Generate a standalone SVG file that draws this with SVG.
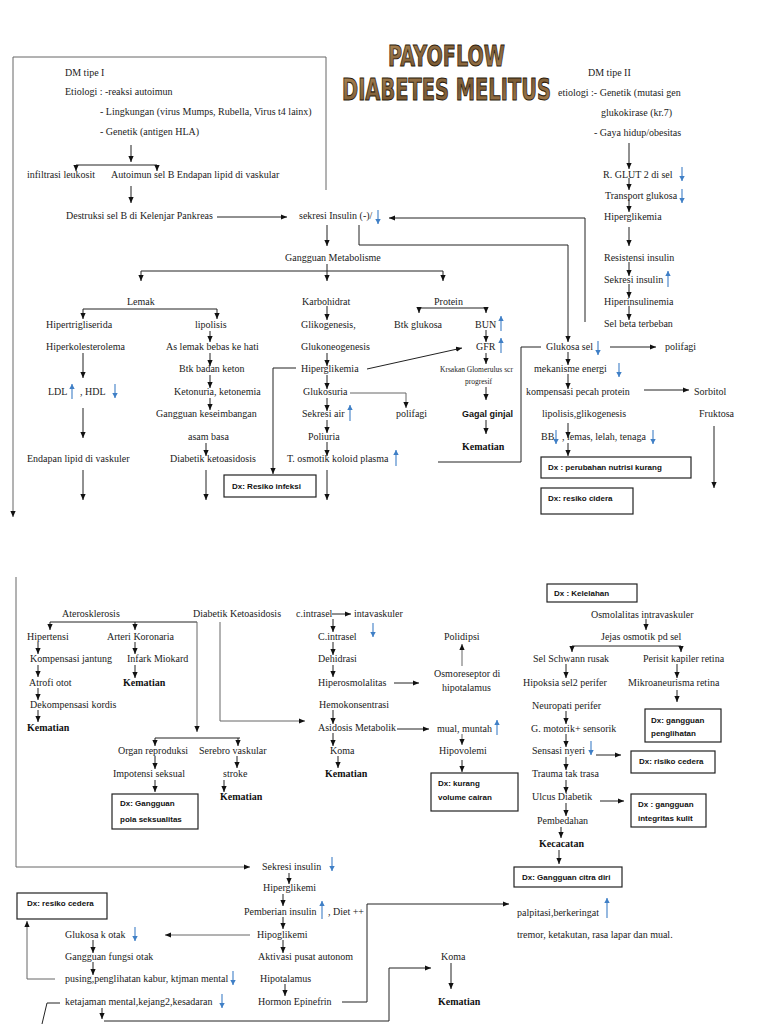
<svg xmlns="http://www.w3.org/2000/svg" width="768" height="1024" viewBox="0 0 768 1024">
<defs>
<marker id="ah" markerUnits="userSpaceOnUse" markerWidth="6" markerHeight="6" refX="6" refY="3" orient="auto"><path d="M0,0.4 L6,3 L0,5.6 z" fill="#111"/></marker>
<marker id="bh" markerUnits="userSpaceOnUse" markerWidth="6" markerHeight="6" refX="5" refY="3" orient="auto"><path d="M0,0.3 L5,3 L0,5.7 z" fill="#3f7fc6"/></marker>
<linearGradient id="tx" x1="0" y1="0" x2="1" y2="1"><stop offset="0" stop-color="#b08a58"/><stop offset="0.5" stop-color="#7a5a34"/><stop offset="1" stop-color="#a88050"/></linearGradient>
</defs>
<style>
.t{font-family:"Liberation Serif","Times New Roman",serif;font-size:10px;fill:#222}
.b{font-weight:bold;fill:#111}
.s{font-size:7.5px}
.dx{font-family:"Liberation Sans",Arial,sans-serif;font-size:8px;font-weight:bold;fill:#111}
.gg{font-family:"Liberation Sans",Arial,sans-serif;font-size:9px;font-weight:bold;fill:#111}
.box{fill:#fff;stroke:#222;stroke-width:1.2}
.c{stroke:#222;stroke-width:1;fill:none}
.g{stroke:#666;stroke-width:1;fill:none}
.a{marker-end:url(#ah)}
.bl{stroke:#3f7fc6;stroke-width:1.1;fill:none;marker-end:url(#bh)}
.ttl{font-family:"DejaVu Sans",sans-serif;font-weight:bold;fill:url(#tx);stroke:#2b1a0a;stroke-width:0.6}
</style>
<rect width="768" height="1024" fill="#fff"/>

<g id="title">
<text class="ttl" transform="translate(388,66) scale(1,1.55)" x="0" y="0" font-size="18.5" textLength="117" lengthAdjust="spacingAndGlyphs">PAYOFLOW</text>
<text class="ttl" transform="translate(342,100) scale(1,1.75)" x="0" y="0" font-size="17.6" textLength="209" lengthAdjust="spacingAndGlyphs">DIABETES MELITUS</text>
</g>

<g id="connectors">
<polyline class="g" points="326,190 326,57 13,57 13,517" marker-end="url(#ah)"/>
<line class="c a" x1="131" y1="145" x2="131" y2="162"/>
<line class="c" x1="76" y1="165" x2="157" y2="165"/>
<line class="c a" x1="76" y1="165" x2="76" y2="171"/>
<line class="c a" x1="157" y1="165" x2="157" y2="171"/>
<line class="c a" x1="131" y1="186" x2="131" y2="203"/>
<line class="c a" x1="217" y1="217" x2="287" y2="217"/>
<line class="c a" x1="327" y1="225" x2="327" y2="246"/>
<polyline class="c a" points="359,225 359,245 568,245 568,342"/>
<polyline class="c a" points="585,322 585,218 389,218"/>
<line class="c" x1="327" y1="264" x2="327" y2="271"/>
<line class="c" x1="141" y1="271" x2="443" y2="271"/>
<line class="c a" x1="141" y1="271" x2="141" y2="281"/>
<line class="c a" x1="327" y1="271" x2="327" y2="281"/>
<line class="c a" x1="443" y1="271" x2="443" y2="281"/>
<line class="c" x1="83" y1="309" x2="217" y2="309"/>
<line class="c a" x1="83" y1="309" x2="83" y2="319"/>
<line class="c a" x1="217" y1="309" x2="217" y2="319"/>
<line class="c" x1="419" y1="308" x2="486" y2="308"/>
<line class="c a" x1="419" y1="308" x2="419" y2="313"/>
<line class="c a" x1="486" y1="308" x2="486" y2="313"/>
<line class="c a" x1="327" y1="306" x2="327" y2="320"/>
<line class="c a" x1="210" y1="331" x2="210" y2="342"/>
<line class="c a" x1="83" y1="353" x2="83" y2="378"/>
<line class="c a" x1="210" y1="353" x2="210" y2="366"/>
<line class="c a" x1="327" y1="353" x2="327" y2="366"/>
<line class="c a" x1="210" y1="375" x2="210" y2="388"/>
<line class="c a" x1="210" y1="398" x2="210" y2="410"/>
<line class="c a" x1="206" y1="443" x2="206" y2="456"/>
<line class="c a" x1="83" y1="408" x2="83" y2="438"/>
<line class="c a" x1="83" y1="470" x2="83" y2="500"/>
<line class="c a" x1="206" y1="470" x2="206" y2="500"/>
<line class="c a" x1="327" y1="375" x2="327" y2="389"/>
<line class="c a" x1="327" y1="398" x2="327" y2="411"/>
<line class="c a" x1="327" y1="420" x2="327" y2="433"/>
<line class="c a" x1="327" y1="442" x2="327" y2="456"/>
<line class="c a" x1="327" y1="470" x2="327" y2="500"/>
<polyline class="c a" points="296,368 273,368 273,474"/>
<line class="c a" x1="367" y1="369" x2="462" y2="348"/>
<polyline class="g a" points="350,393 406,393 406,408"/>
<line class="c a" x1="486" y1="330" x2="486" y2="342"/>
<line class="c a" x1="486" y1="353" x2="486" y2="364"/>
<line class="c a" x1="486" y1="387" x2="486" y2="400"/>
<line class="c a" x1="486" y1="420" x2="486" y2="434"/>
<polyline class="c" points="438,462 521,462 521,347 541,347"/>
<line class="c a" x1="629" y1="143" x2="629" y2="169"/>
<line class="c a" x1="629" y1="178" x2="629" y2="190"/>
<line class="c a" x1="629" y1="199" x2="629" y2="212"/>
<line class="c a" x1="629" y1="227" x2="629" y2="246"/>
<line class="c a" x1="629" y1="262" x2="629" y2="276"/>
<line class="c a" x1="629" y1="284" x2="629" y2="298"/>
<line class="c a" x1="629" y1="306" x2="629" y2="320"/>
<line class="c a" x1="610" y1="347" x2="656" y2="347"/>
<line class="c a" x1="568" y1="352" x2="568" y2="365"/>
<line class="c a" x1="568" y1="374" x2="568" y2="389"/>
<line class="c a" x1="644" y1="390" x2="689" y2="390"/>
<line class="c a" x1="568" y1="423" x2="568" y2="438"/>
<line class="c a" x1="568" y1="443" x2="568" y2="456"/>
<line class="c a" x1="714" y1="426" x2="714" y2="488"/>

<polyline class="g a" points="16,577 16,867 250,867"/>
<line class="c" x1="50" y1="622" x2="197" y2="622"/>
<line class="c a" x1="50" y1="622" x2="50" y2="630"/>
<line class="c a" x1="135" y1="622" x2="135" y2="630"/>
<line class="g a" x1="197" y1="622" x2="197" y2="732"/>
<line class="c" x1="155" y1="738" x2="240" y2="738"/>
<line class="c a" x1="155" y1="738" x2="155" y2="746"/>
<line class="c a" x1="238" y1="738" x2="238" y2="746"/>
<polyline class="g a" points="220,622 220,721 305,721"/>
<line class="c a" x1="332" y1="614" x2="351" y2="614"/>
<line class="c a" x1="38" y1="642" x2="38" y2="654"/>
<line class="c a" x1="38" y1="665" x2="38" y2="677"/>
<line class="c a" x1="38" y1="688" x2="38" y2="700"/>
<line class="c a" x1="38" y1="710" x2="38" y2="722"/>
<line class="c a" x1="135" y1="642" x2="135" y2="654"/>
<line class="c a" x1="135" y1="665" x2="135" y2="678"/>
<line class="c a" x1="333" y1="619" x2="333" y2="632"/>
<line class="c a" x1="333" y1="642" x2="333" y2="655"/>
<line class="c a" x1="333" y1="665" x2="333" y2="677"/>
<line class="c a" x1="333" y1="710" x2="333" y2="724"/>
<line class="c a" x1="333" y1="733" x2="333" y2="746"/>
<line class="c a" x1="338" y1="756" x2="338" y2="768"/>
<line class="c a" x1="394" y1="683" x2="419" y2="683"/>
<line class="g a" x1="462" y1="666" x2="462" y2="644"/>
<line class="c a" x1="397" y1="729" x2="429" y2="729"/>
<line class="g a" x1="462" y1="734" x2="462" y2="745"/>
<line class="c a" x1="462" y1="760" x2="462" y2="772"/>
<line class="c a" x1="155" y1="756" x2="155" y2="769"/>
<line class="c a" x1="155" y1="780" x2="155" y2="792"/>
<line class="c a" x1="237" y1="756" x2="237" y2="768"/>
<line class="c a" x1="224" y1="780" x2="224" y2="792"/>
<line class="c a" x1="646" y1="619" x2="646" y2="630"/>
<line class="c" x1="572" y1="646" x2="681" y2="646"/>
<line class="c a" x1="572" y1="646" x2="572" y2="652"/>
<line class="c a" x1="681" y1="646" x2="681" y2="652"/>
<line class="c a" x1="566" y1="664" x2="566" y2="678"/>
<line class="c a" x1="677" y1="664" x2="677" y2="678"/>
<line class="c a" x1="677" y1="690" x2="677" y2="702"/>
<line class="c a" x1="566" y1="711" x2="566" y2="724"/>
<line class="c a" x1="566" y1="734" x2="566" y2="747"/>
<line class="c a" x1="566" y1="757" x2="566" y2="770"/>
<line class="c a" x1="566" y1="780" x2="566" y2="793"/>
<line class="c a" x1="566" y1="803" x2="566" y2="816"/>
<line class="c a" x1="561" y1="827" x2="561" y2="838"/>
<line class="c a" x1="559" y1="850" x2="559" y2="864"/>
<line class="c a" x1="596" y1="755" x2="621" y2="755"/>
<line class="c a" x1="600" y1="801" x2="624" y2="801"/>
<line class="c a" x1="289" y1="873" x2="289" y2="884"/>
<line class="c a" x1="283" y1="894" x2="283" y2="906"/>
<line class="c a" x1="283" y1="917" x2="283" y2="929"/>
<line class="c a" x1="283" y1="940" x2="283" y2="953"/>
<line class="c a" x1="285" y1="984" x2="285" y2="996"/>
<line class="g a" x1="250" y1="935" x2="165" y2="935"/>
<line class="c a" x1="93" y1="940" x2="93" y2="953"/>
<line class="c a" x1="93" y1="962" x2="93" y2="975"/>
<polyline class="g a" points="55,979 27,979 27,921"/>
<polyline class="c" points="60,1003 47,1003 42,1024"/>
<line class="c a" x1="102" y1="1008" x2="102" y2="1019"/>
<polyline class="c a" points="104,1021 389,1021 389,968 431,968"/>
<line class="c a" x1="451" y1="963" x2="451" y2="989"/>
<polyline class="c a" points="342,1002 367,1002 367,904 509,904"/>
</g>

<g id="blue-arrows">
<line class="bl" x1="378" y1="210" x2="378" y2="224"/>
<line class="bl" x1="501" y1="331" x2="501" y2="316"/>
<line class="bl" x1="501" y1="353" x2="501" y2="338"/>
<line class="bl" x1="72" y1="399" x2="72" y2="384"/>
<line class="bl" x1="115" y1="384" x2="115" y2="398"/>
<line class="bl" x1="350" y1="421" x2="350" y2="405"/>
<line class="bl" x1="396" y1="466" x2="396" y2="450"/>
<line class="bl" x1="682" y1="167" x2="682" y2="181"/>
<line class="bl" x1="682" y1="189" x2="682" y2="203"/>
<line class="bl" x1="668" y1="287" x2="668" y2="271"/>
<line class="bl" x1="598" y1="341" x2="598" y2="355"/>
<line class="bl" x1="619" y1="363" x2="619" y2="377"/>
<line class="bl" x1="556" y1="430" x2="556" y2="444"/>
<line class="bl" x1="653" y1="430" x2="653" y2="444"/>
<line class="bl" x1="373" y1="623" x2="373" y2="637"/>
<line class="bl" x1="497" y1="735" x2="497" y2="720"/>
<line class="bl" x1="591" y1="741" x2="591" y2="755"/>
<line class="bl" x1="332" y1="857" x2="332" y2="871"/>
<line class="bl" x1="322" y1="919" x2="322" y2="901"/>
<line class="bl" x1="607" y1="918" x2="607" y2="898"/>
<line class="bl" x1="135" y1="927" x2="135" y2="941"/>
<line class="bl" x1="233" y1="971" x2="233" y2="985"/>
<line class="bl" x1="222" y1="994" x2="222" y2="1008"/>
</g>

<g id="n-dm1"><text class="t" x="65" y="76">DM tipe I</text></g>
<g id="n-etio1"><text class="t" x="65" y="95">Etiologi : -reaksi autoimun</text></g>
<g id="n-lingk"><text class="t" x="100" y="115">- Lingkungan (virus Mumps, Rubella, Virus t4 lainx)</text></g>
<g id="n-genetik"><text class="t" x="100" y="135">- Genetik (antigen HLA)</text></g>
<g id="n-infil"><text class="t" x="27" y="178">infiltrasi leukosit</text></g>
<g id="n-autoimun"><text class="t" x="111" y="178">Autoimun sel B Endapan lipid di vaskular</text></g>
<g id="n-destruksi"><text class="t" x="66" y="219">Destruksi sel B di Kelenjar Pankreas</text></g>
<g id="n-sekresi1"><text class="t" x="299" y="219">sekresi Insulin (-)/</text></g>
<g id="n-gangguan"><text class="t" x="285" y="261">Gangguan Metabolisme</text></g>
<g id="n-lemak"><text class="t" x="127" y="305">Lemak</text></g>
<g id="n-karbo"><text class="t" x="302" y="305">Karbohidrat</text></g>
<g id="n-protein"><text class="t" x="434" y="305">Protein</text></g>
<g id="n-hipertg"><text class="t" x="46" y="328">Hipertrigliserida</text></g>
<g id="n-lipolisis"><text class="t" x="195" y="328">lipolisis</text></g>
<g id="n-glikogen"><text class="t" x="301" y="328">Glikogenesis,</text></g>
<g id="n-btkglu"><text class="t" x="394" y="328">Btk glukosa</text></g>
<g id="n-bun"><text class="t" x="475" y="328">BUN</text></g>
<g id="n-hiperkol"><text class="t" x="46" y="350">Hiperkolesterolema</text></g>
<g id="n-aslemak"><text class="t" x="166" y="350">As lemak bebas ke hati</text></g>
<g id="n-glukoneo"><text class="t" x="301" y="350">Glukoneogenesis</text></g>
<g id="n-gfr"><text class="t" x="476" y="350">GFR</text></g>
<g id="n-krsakan"><text class="t s" x="440" y="372">Krsakan Glomerulus scr</text><text class="t s" x="465" y="384">progresif</text></g>
<g id="n-ldl"><text class="t" x="48" y="395">LDL</text><text class="t" x="80" y="395">, HDL</text></g>
<g id="n-btkketon"><text class="t" x="179" y="372">Btk badan keton</text></g>
<g id="n-hipergl1"><text class="t" x="301" y="372">Hiperglikemia</text></g>
<g id="n-ketonuria"><text class="t" x="174" y="395">Ketonuria, ketonemia</text></g>
<g id="n-glukosuria"><text class="t" x="303" y="395">Glukosuria</text></g>
<g id="n-gkab"><text class="t" x="156" y="417">Gangguan keseimbangan</text></g>
<g id="n-sekair"><text class="t" x="302" y="417">Sekresi air</text></g>
<g id="n-polifagi1"><text class="t" x="396" y="417">polifagi</text></g>
<g id="n-gagal"><text class="gg" x="462" y="417">Gagal ginjal</text></g>
<g id="n-asam"><text class="t" x="188" y="440">asam basa</text></g>
<g id="n-poliuria"><text class="t" x="308" y="440">Poliuria</text></g>
<g id="n-kem1"><text class="t b" x="462" y="450">Kematian</text></g>
<g id="n-endapan"><text class="t" x="27" y="462">Endapan lipid di vaskuler</text></g>
<g id="n-dka1"><text class="t" x="170" y="462">Diabetik ketoasidosis</text></g>
<g id="n-tosm"><text class="t" x="287" y="462">T. osmotik koloid plasma</text></g>
<g id="n-dx-infeksi"><rect class="box" x="224" y="475" width="92" height="22"/><text class="dx" x="232" y="489">Dx: Resiko infeksi</text></g>

<g id="n-dm2"><text class="t" x="588" y="76">DM tipe II</text></g>
<g id="n-etio2"><text class="t" x="558" y="96">etiologi :- Genetik (mutasi gen</text></g>
<g id="n-gluko"><text class="t" x="601" y="116">glukokirase (kr.7)</text></g>
<g id="n-gaya"><text class="t" x="594" y="136">-  Gaya hidup/obesitas</text></g>
<g id="n-glut"><text class="t" x="603" y="178">R. GLUT 2 di sel</text></g>
<g id="n-transport"><text class="t" x="605" y="199">Transport glukosa</text></g>
<g id="n-hipergl2"><text class="t" x="604" y="220">Hiperglikemia</text></g>
<g id="n-resist"><text class="t" x="604" y="261">Resistensi insulin</text></g>
<g id="n-sekresi2"><text class="t" x="604" y="283">Sekresi insulin</text></g>
<g id="n-hiperins"><text class="t" x="604" y="305">Hiperinsulinemia</text></g>
<g id="n-selbeta"><text class="t" x="604" y="327">Sel beta terbeban</text></g>
<g id="n-glusel"><text class="t" x="546" y="350">Glukosa sel</text></g>
<g id="n-polifagi2"><text class="t" x="665" y="350">polifagi</text></g>
<g id="n-mekanisme"><text class="t" x="534" y="372">mekanisme energi</text></g>
<g id="n-kompensasi"><text class="t" x="526" y="395">kompensasi pecah protein</text></g>
<g id="n-sorbitol"><text class="t" x="694" y="395">Sorbitol</text></g>
<g id="n-lipogli"><text class="t" x="542" y="417">lipolisis,glikogenesis</text></g>
<g id="n-fruktosa"><text class="t" x="699" y="417">Fruktosa</text></g>
<g id="n-bb"><text class="t" x="541" y="440">BB</text><text class="t" x="562" y="440">, lemas, lelah, tenaga</text></g>
<g id="n-dx-nutrisi"><rect class="box" x="541" y="457" width="150" height="21"/><text class="dx" x="548" y="470">Dx : perubahan nutrisi kurang</text></g>
<g id="n-dx-cidera1"><rect class="box" x="541" y="488" width="92" height="26"/><text class="dx" x="548" y="501">Dx: resiko cidera</text></g>

<g id="m-ateros"><text class="t" x="62" y="617">Aterosklerosis</text></g>
<g id="m-dka2"><text class="t" x="193" y="617">Diabetik Ketoasidosis</text></g>
<g id="m-cintra1"><text class="t" x="296" y="617">c.intrasel</text></g>
<g id="m-intav"><text class="t" x="354" y="617">intavaskuler</text></g>
<g id="m-hipertensi"><text class="t" x="27" y="640">Hipertensi</text></g>
<g id="m-arteri"><text class="t" x="107" y="640">Arteri Koronaria</text></g>
<g id="m-cintra2"><text class="t" x="318" y="640">C.intrasel</text></g>
<g id="m-polidipsi"><text class="t" x="444" y="640">Polidipsi</text></g>
<g id="m-jejas"><text class="t" x="601" y="640">Jejas osmotik pd sel</text></g>
<g id="m-kompjant"><text class="t" x="30" y="662">Kompensasi jantung</text></g>
<g id="m-infark"><text class="t" x="127" y="662">Infark Miokard</text></g>
<g id="m-dehidrasi"><text class="t" x="318" y="662">Dehidrasi</text></g>
<g id="m-schwann"><text class="t" x="533" y="662">Sel Schwann rusak</text></g>
<g id="m-perisit"><text class="t" x="643" y="662">Perisit kapiler retina</text></g>
<g id="m-atrofi"><text class="t" x="29" y="686">Atrofi otot</text></g>
<g id="m-kem2"><text class="t b" x="123" y="686">Kematian</text></g>
<g id="m-hiperosm"><text class="t" x="318" y="686">Hiperosmolalitas</text></g>
<g id="m-osmores"><text class="t" x="434" y="677">Osmoreseptor di</text><text class="t" x="442" y="691">hipotalamus</text></g>
<g id="m-hipoksia"><text class="t" x="523" y="686">Hipoksia sel2 perifer</text></g>
<g id="m-mikro"><text class="t" x="628" y="686">Mikroaneurisma retina</text></g>
<g id="m-osmint"><text class="t" x="591" y="618">Osmolalitas intravaskuler</text></g>
<g id="m-dx-kelelahan"><rect class="box" x="547" y="584" width="90" height="18"/><text class="dx" x="554" y="596">Dx :  Kelelahan</text></g>
<g id="m-dekomp"><text class="t" x="30" y="708">Dekompensasi kordis</text></g>
<g id="m-hemok"><text class="t" x="319" y="708">Hemokonsentrasi</text></g>
<g id="m-neuro"><text class="t" x="532" y="709">Neuropati perifer</text></g>
<g id="m-dx-lihat"><rect class="box" x="645" y="709" width="76" height="33"/><text class="dx" x="651" y="723">Dx: gangguan</text><text class="dx" x="651" y="736">penglihatan</text></g>
<g id="m-kem3"><text class="t b" x="27" y="731">Kematian</text></g>
<g id="m-asidosis"><text class="t" x="318" y="731">Asidosis Metabolik</text></g>
<g id="m-mual"><text class="t" x="437" y="732">mual, muntah</text></g>
<g id="m-motorik"><text class="t" x="531" y="732">G. motorik+ sensorik</text></g>
<g id="m-organ"><text class="t" x="118" y="754">Organ reproduksi</text></g>
<g id="m-serebro"><text class="t" x="199" y="754">Serebro vaskular</text></g>
<g id="m-koma1"><text class="t" x="330" y="754">Koma</text></g>
<g id="m-hipovol"><text class="t" x="439" y="754">Hipovolemi</text></g>
<g id="m-nyeri"><text class="t" x="532" y="754">Sensasi nyeri</text></g>
<g id="m-dx-cedera2"><rect class="box" x="631" y="751" width="84" height="22"/><text class="dx" x="639" y="764">Dx: risiko cedera</text></g>
<g id="m-impotensi"><text class="t" x="113" y="777">Impotensi seksual</text></g>
<g id="m-stroke"><text class="t" x="223" y="777">stroke</text></g>
<g id="m-kem4"><text class="t b" x="325" y="777">Kematian</text></g>
<g id="m-dx-cairan"><rect class="box" x="431" y="773" width="87" height="38"/><text class="dx" x="438" y="786">Dx: kurang</text><text class="dx" x="438" y="800">volume cairan</text></g>
<g id="m-trauma"><text class="t" x="532" y="777">Trauma tak trasa</text></g>
<g id="m-dx-seks"><rect class="box" x="112" y="794" width="86" height="35"/><text class="dx" x="120" y="806">Dx: Gangguan</text><text class="dx" x="120" y="822">pola seksualitas</text></g>
<g id="m-kem5"><text class="t b" x="220" y="800">Kematian</text></g>
<g id="m-ulcus"><text class="t" x="532" y="800">Ulcus Diabetik</text></g>
<g id="m-dx-kulit"><rect class="box" x="631" y="794" width="75" height="33"/><text class="dx" x="638" y="807">Dx : gangguan</text><text class="dx" x="638" y="821">integritas kulit</text></g>
<g id="m-bedah"><text class="t" x="537" y="824">Pembedahan</text></g>
<g id="m-cacat"><text class="t b" x="539" y="847">Kecacatan</text></g>
<g id="m-sekresi3"><text class="t" x="262" y="870">Sekresi insulin</text></g>
<g id="m-dx-citra"><rect class="box" x="514" y="867" width="108" height="20"/><text class="dx" x="522" y="880">Dx: Gangguan citra diri</text></g>
<g id="m-hipergl3"><text class="t" x="263" y="891">Hiperglikemi</text></g>
<g id="m-dx-cedera3"><rect class="box" x="17" y="893" width="90" height="26"/><text class="dx" x="27" y="906">Dx: resiko cedera</text></g>
<g id="m-pemberian"><text class="t" x="244" y="915">Pemberian insulin</text><text class="t" x="328" y="915">, Diet ++</text></g>
<g id="m-palpitasi"><text class="t" x="517" y="916">palpitasi,berkeringat</text></g>
<g id="m-glukotak"><text class="t" x="65" y="938">Glukosa k otak</text></g>
<g id="m-hipogl"><text class="t" x="257" y="938">Hipoglikemi</text></g>
<g id="m-tremor"><text class="t" x="517" y="938">tremor, ketakutan, rasa lapar dan mual.</text></g>
<g id="m-gfungsi"><text class="t" x="65" y="960">Gangguan fungsi otak</text></g>
<g id="m-aktivasi"><text class="t" x="258" y="960">Aktivasi pusat autonom</text></g>
<g id="m-koma2"><text class="t" x="441" y="960">Koma</text></g>
<g id="m-pusing"><text class="t" x="65" y="982">pusing,penglihatan kabur, ktjman mental</text></g>
<g id="m-hipotal"><text class="t" x="260" y="982">Hipotalamus</text></g>
<g id="m-ketajaman"><text class="t" x="65" y="1005">ketajaman mental,kejang2,kesadaran</text></g>
<g id="m-hormon"><text class="t" x="258" y="1005">Hormon Epinefrin</text></g>
<g id="m-kem6"><text class="t b" x="438" y="1005">Kematian</text></g>
</svg>
